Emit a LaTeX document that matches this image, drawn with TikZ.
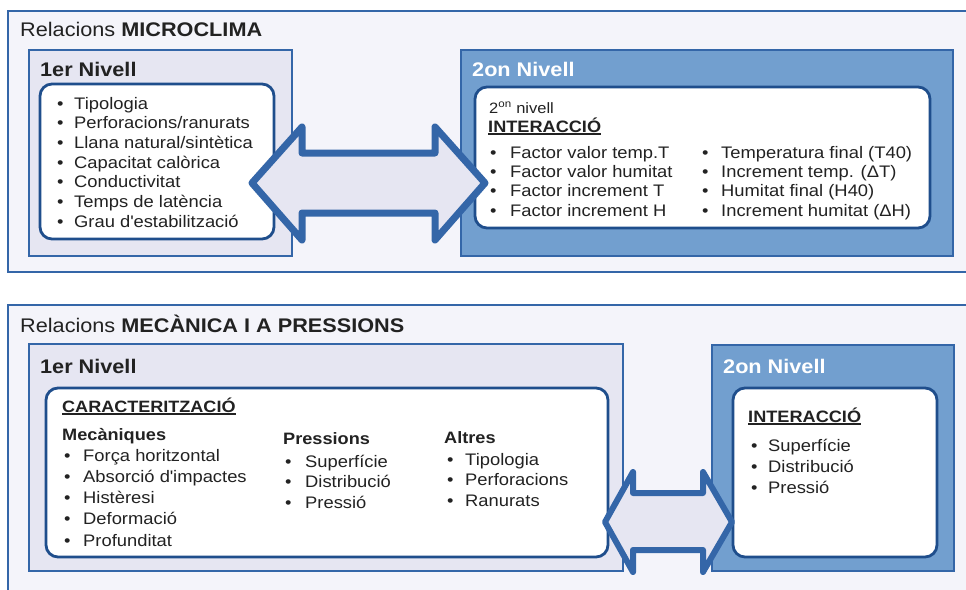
\documentclass[tikz,border=0pt]{standalone}
\usepackage{fontspec}
\setmainfont{Liberation Sans}[FakeStretch=1.1]
\definecolor{frameblue}{HTML}{3466A8}
\definecolor{innerblue}{HTML}{1F4E8C}
\definecolor{framebg}{HTML}{F4F4FA}
\definecolor{lvlbg}{HTML}{E6E6F2}
\definecolor{lvltwobg}{HTML}{729FCF}
\definecolor{txtcol}{HTML}{222222}
\newsavebox\ulbox
\newcommand\ulb[1]{\sbox\ulbox{#1}\rlap{\rule[-2.6pt]{\wd\ulbox}{1.3pt}}\usebox\ulbox}
\newcommand\bul[2]{\makebox[#1][l]{•}#2}
\tikzset{
  frame/.style={draw=frameblue, line width=2.5pt, fill=framebg},
  lvlone/.style={draw=frameblue, line width=2.5pt, fill=lvlbg},
  lvltwo/.style={draw=frameblue, line width=2.5pt, fill=lvltwobg},
  innerbox/.style={draw=innerblue, line width=2.8pt, fill=white, rounded corners=12pt},
  txt/.style={anchor=base west, inner sep=0pt, text=txtcol, font=\fontsize{16.7}{20}\selectfont},
  ttl/.style={txt, font=\fontsize{19.7}{24}\selectfont},
  lvltitle/.style={txt, font=\fontsize{19.7}{24}\selectfont\bfseries},
  blockarrow/.style={draw=frameblue, fill=lvlbg, line join=round},
}
\begin{document}
\begin{tikzpicture}[x=1pt,y=-1pt]
\useasboundingbox (0,0) rectangle (966,589);
\clip (0,0) rectangle (966,589);
\fill[white] (0,0) rectangle (966,589);

% ---------- top section ----------
\draw[frame] (8,11) rectangle (985,272);
\node[ttl] (t1) at (20,36) {Relacions \textbf{MICROCLIMA}};

\draw[lvlone] (29,50) rectangle (292,256);
\node[lvltitle] (t1a) at (40,76) {1er Nivell};
\draw[innerbox] (40,84) rectangle (274,239);
\foreach \t [count=\i] in {{Tipologia},{Perforacions/ranurats},{Llana natural/sintètica},{Capacitat calòrica},{Conductivitat},{Temps de latència},{Grau d\textquotesingle estabilització}}
  \node[txt] (tl\i) at (57,{109+(\i-1)*19.7}) {\bul{17pt}{\t}};

\draw[lvltwo] (461,50) rectangle (953,256);
\node[lvltitle, text=white] (t1b) at (472,76) {2on Nivell};
\draw[innerbox] (475,87) rectangle (930,228);
\node[txt, font=\fontsize{15}{18}\selectfont] (sn) at (489,113) {2\textsuperscript{on} nivell};
\node[txt, font=\fontsize{16.5}{20}\selectfont\bfseries] (ia) at (488,132) {\ulb{INTERACCIÓ}};
\foreach \t [count=\i] in {{Factor valor temp.T},{Factor valor humitat},{Factor increment T},{Factor increment H}}
  \node[txt] (ta\i) at (490,{158+(\i-1)*19.4}) {\bul{20pt}{\t}};
\foreach \t [count=\i] in {{Temperatura final (T40)},{Increment temp. (ΔT)},{Humitat final (H40)},{Increment humitat (ΔH)}}
  \node[txt] (tb\i) at (702,{158+(\i-1)*19.4}) {\bul{19pt}{\t}};

\draw[blockarrow, line width=7pt] (252,183) -- (302,127) -- (302,153) -- (435,153) -- (435,127) -- (485,183) -- (435,240) -- (435,213) -- (302,213) -- (302,240) -- cycle;

% ---------- bottom section ----------
\draw[frame] (8,305) rectangle (985,610);
\node[ttl] (t2) at (20,332) {Relacions \textbf{MECÀNICA I A PRESSIONS}};

\draw[lvlone] (29,344) rectangle (623,571);
\node[lvltitle] (t2a) at (40,373) {1er Nivell};
\draw[innerbox] (46,388) rectangle (608,557);
\node[txt, font=\fontsize{16.4}{20}\selectfont\bfseries] (ca) at (62,412) {\ulb{CARACTERITZACIÓ}};
\node[txt, font=\fontsize{16.5}{20}\selectfont\bfseries] (mh) at (62,440) {Mecàniques};
\foreach \t [count=\i] in {{Força horitzontal},{Absorció d\textquotesingle impactes},{Histèresi},{Deformació},{Profunditat}}
  \node[txt] (m\i) at (64,{461+(\i-1)*21.3}) {\bul{19pt}{\t}};
\node[txt, font=\fontsize{16.5}{20}\selectfont\bfseries] (ph) at (283,444) {Pressions};
\foreach \t [count=\i] in {{Superfície},{Distribució},{Pressió}}
  \node[txt] (p\i) at (285,{467+(\i-1)*20.5}) {\bul{20pt}{\t}};
\node[txt, font=\fontsize{16.5}{20}\selectfont\bfseries] (ah) at (444,443) {Altres};
\foreach \t [count=\i] in {{Tipologia},{Perforacions},{Ranurats}}
  \node[txt] (a\i) at (447,{465+(\i-1)*20.8}) {\bul{18pt}{\t}};

\draw[lvltwo] (712,345) rectangle (954,571);
\node[lvltitle, text=white] (t2b) at (723,373) {2on Nivell};
\draw[innerbox] (733,388) rectangle (937,557);
\node[txt, font=\fontsize{16.5}{20}\selectfont\bfseries] (ib) at (748,422) {\ulb{INTERACCIÓ}};
\foreach \t [count=\i] in {{Superfície},{Distribució},{Pressió}}
  \node[txt] (r\i) at (751,{451+(\i-1)*21}) {\bul{17pt}{\t}};

\draw[blockarrow, line width=6pt] (605,522) -- (633,472) -- (633,493) -- (703,493) -- (703,472) -- (732,522) -- (703,572) -- (703,550) -- (633,550) -- (633,572) -- cycle;
\end{tikzpicture}
\end{document}
